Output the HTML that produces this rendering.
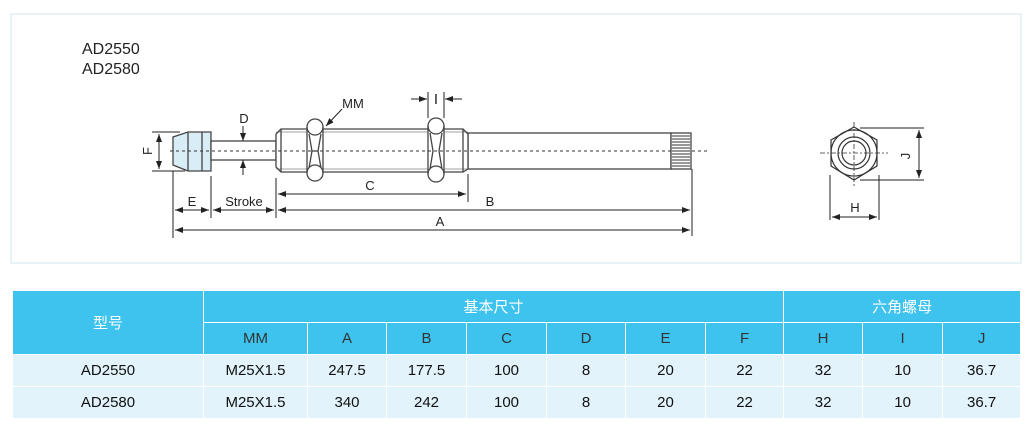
<!DOCTYPE html>
<html><head><meta charset="utf-8"><style>
body{margin:0;width:1029px;height:427px;background:#fff;overflow:hidden;font-family:"Liberation Sans","Noto Sans CJK SC",sans-serif}
.box{position:absolute;left:10px;top:13px;width:1008px;height:247px;border:2px solid #e6f2f5}
table{position:absolute;left:12px;top:290px;width:1008px;border-collapse:collapse;table-layout:fixed}
td{text-align:center;font-size:15px;color:#111;padding:0;border:1px solid #fff}
.h td{background:#3ec3ef;color:#fff;height:31px}
.h2 td{color:#333}
.d td{background:#e2f3fb;height:31px}
</style></head><body>
<div class="box"></div>
<svg width="1029" height="270" style="position:absolute;left:0;top:0" font-family="Liberation Sans, sans-serif">
<defs><marker id="a" markerWidth="8" markerHeight="6" refX="8" refY="3" orient="auto" markerUnits="userSpaceOnUse"><path d="M0,0L8,3L0,6z" fill="#222"/></marker></defs>
<text x="82" y="54" font-size="16" fill="#222">AD2550</text>
<text x="82" y="74" font-size="16" fill="#222">AD2580</text>
<g stroke="#444" stroke-width="1.3" fill="none">
<path d="M173,137L188,132L211,132L211,171L188,171L173,165Z" fill="#d8edf6"/>
<line x1="188" y1="132" x2="188" y2="171"/><line x1="202" y1="132" x2="202" y2="171"/>
<rect x="211" y="141" width="65" height="19" fill="#fff"/>
<rect x="468" y="133" width="203" height="36" fill="#fff"/>
<rect x="671" y="133" width="20" height="36" fill="#fff"/>
<path d="M281,129L463,129L468,134L468,169L463,172L281,172L276,167L276,134Z" fill="#fff"/>
<line x1="281" y1="129" x2="281" y2="172"/><line x1="463" y1="129" x2="463" y2="172"/>
<line x1="276" y1="132" x2="468" y2="132" stroke-width="0.6"/><line x1="276" y1="169" x2="468" y2="169" stroke-width="0.6"/>
<g fill="#fff">
<path d="M307,127A8,8 0 0 1 323,127L323,173A8,8 0 0 1 307,173Z"/>
<path d="M428,126A8,8 0 0 1 444,126L444,174A8,8 0 0 1 428,174Z"/>
</g>
<path d="M307,127A8,8 0 0 0 323,127M307,173A8,8 0 0 1 323,173M309,134L312,151L309,168M321,134L318,151L321,168M312,151L318,151"/>
<path d="M428,126A8,8 0 0 0 444,126M428,174A8,8 0 0 1 444,174M430,133L433,151L430,169M442,133L439,151L442,169"/>
</g>
<g stroke="#333" stroke-width="1">
<path d="M672,136H690M672,139H690M672,142H690M672,145H690M672,148H690M672,151H690M672,154H690M672,157H690M672,160H690M672,163H690M672,166H690"/>
</g>
<line x1="170" y1="151" x2="707" y2="151" stroke="#333" stroke-width="1" stroke-dasharray="3,3"/>
<g stroke="#222" stroke-width="1" fill="none">
<line x1="152" y1="132" x2="180" y2="132"/><line x1="152" y1="171" x2="185" y2="171"/>
<line x1="173" y1="171" x2="173" y2="238"/><line x1="211" y1="176" x2="211" y2="218"/>
<line x1="276" y1="178" x2="276" y2="218"/><line x1="468" y1="174" x2="468" y2="202"/>
<line x1="692" y1="169" x2="692" y2="236"/>
<line x1="428" y1="92" x2="428" y2="118"/><line x1="444" y1="92" x2="444" y2="118"/>
<line x1="159" y1="151" x2="159" y2="134" marker-end="url(#a)"/><line x1="159" y1="151" x2="159" y2="169" marker-end="url(#a)"/>
<line x1="243" y1="126" x2="243" y2="141" marker-end="url(#a)"/><line x1="243" y1="175" x2="243" y2="160" marker-end="url(#a)"/>
<line x1="192" y1="210" x2="175" y2="210" marker-end="url(#a)"/><line x1="192" y1="210" x2="209" y2="210" marker-end="url(#a)"/>
<line x1="244" y1="210" x2="213" y2="210" marker-end="url(#a)"/><line x1="244" y1="210" x2="274" y2="210" marker-end="url(#a)"/>
<line x1="480" y1="210" x2="278" y2="210" marker-end="url(#a)"/><line x1="480" y1="210" x2="690" y2="210" marker-end="url(#a)"/>
<line x1="430" y1="230" x2="175" y2="230" marker-end="url(#a)"/><line x1="430" y1="230" x2="690" y2="230" marker-end="url(#a)"/>
<line x1="370" y1="194" x2="278" y2="194" marker-end="url(#a)"/><line x1="370" y1="194" x2="466" y2="194" marker-end="url(#a)"/>
<line x1="411" y1="99" x2="427" y2="99" marker-end="url(#a)"/><line x1="462" y1="99" x2="445" y2="99" marker-end="url(#a)"/>
<line x1="342" y1="109" x2="326" y2="126" marker-end="url(#a)"/>
</g>
<g font-size="13" fill="#222" text-anchor="middle">
<text x="244" y="123">D</text><text x="353" y="108">MM</text><text x="436" y="104" font-size="15">I</text>
<text x="192" y="206">E</text><text x="244" y="206">Stroke</text><text x="370" y="190">C</text>
<text x="490" y="206">B</text><text x="440" y="226">A</text>
<text transform="translate(148,151) rotate(-90)" y="4">F</text>
<text transform="translate(906,156) rotate(-90)" y="4">J</text>
<text x="855" y="212">H</text>
</g>
<g stroke="#333" stroke-width="1.2" fill="none">
<polygon points="854,127 877,140 877,166 854,180 831,166 831,140" fill="#fff"/>
<circle cx="854" cy="153" r="23"/><circle cx="854" cy="153" r="16"/><circle cx="854" cy="153" r="12"/>
<line x1="820" y1="153" x2="888" y2="153" stroke-dasharray="5,2,2,2" stroke-width="0.8"/>
<line x1="854" y1="122" x2="854" y2="186" stroke-dasharray="5,2,2,2" stroke-width="0.8"/>
</g>
<g stroke="#222" stroke-width="1">
<line x1="860" y1="128" x2="924" y2="128"/><line x1="860" y1="180" x2="924" y2="180"/>
<line x1="919" y1="154" x2="919" y2="130" marker-end="url(#a)"/><line x1="919" y1="154" x2="919" y2="178" marker-end="url(#a)"/>
<line x1="830" y1="175" x2="830" y2="220"/><line x1="879" y1="175" x2="879" y2="220"/>
<line x1="854" y1="217" x2="832" y2="217" marker-end="url(#a)"/><line x1="854" y1="217" x2="877" y2="217" marker-end="url(#a)"/>
</g>
</svg>
<table>
<colgroup><col style="width:191px"><col style="width:104px"><col style="width:79px"><col style="width:80px"><col style="width:80px"><col style="width:79px"><col style="width:80px"><col style="width:78px"><col style="width:79px"><col style="width:80px"><col style="width:78px"></colgroup>
<tr class="h"><td rowspan="2">型号</td><td colspan="7">基本尺寸</td><td colspan="3">六角螺母</td></tr>
<tr class="h h2"><td>MM</td><td>A</td><td>B</td><td>C</td><td>D</td><td>E</td><td>F</td><td>H</td><td>I</td><td>J</td></tr>
<tr class="d"><td>AD2550</td><td>M25X1.5</td><td>247.5</td><td>177.5</td><td>100</td><td>8</td><td>20</td><td>22</td><td>32</td><td>10</td><td>36.7</td></tr>
<tr class="d"><td>AD2580</td><td>M25X1.5</td><td>340</td><td>242</td><td>100</td><td>8</td><td>20</td><td>22</td><td>32</td><td>10</td><td>36.7</td></tr>
</table>
</body></html>
